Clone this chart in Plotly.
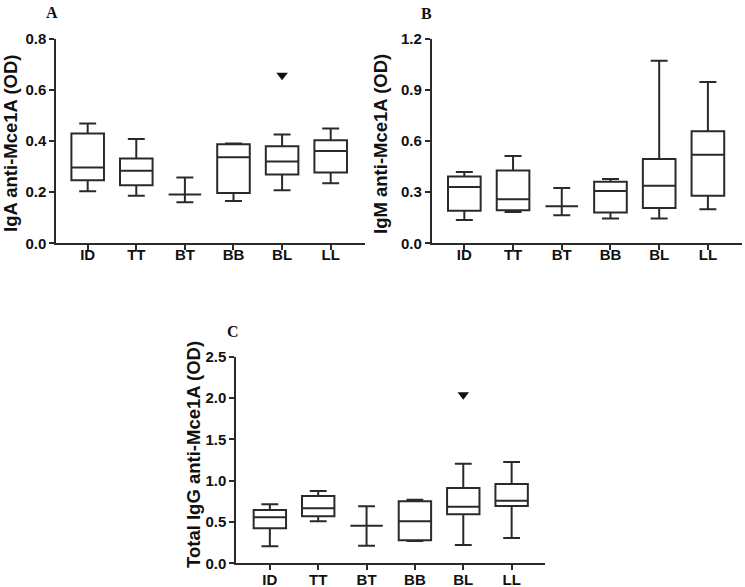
import plotly.graph_objects as go

W, H = 745, 587

categories = ["ID", "TT", "BT", "BB", "BL", "LL"]

# Panel A: IgA anti-Mce1A (OD)
iga_upper = [0.468, 0.407, 0.257, 0.390, 0.425, 0.448]
iga_q3 = [0.429, 0.331, 0.191, 0.387, 0.379, 0.403]
iga_median = [0.296, 0.283, 0.191, 0.336, 0.320, 0.361]
iga_q1 = [0.246, 0.227, 0.191, 0.196, 0.269, 0.277]
iga_lower = [0.203, 0.186, 0.160, 0.165, 0.207, 0.235]
iga_outlier_cat = ["BL"]
iga_outlier_val = [0.656]

# Panel B: IgM anti-Mce1A (OD)
igm_upper = [0.418, 0.511, 0.324, 0.377, 1.070, 0.945]
igm_q3 = [0.392, 0.427, 0.217, 0.361, 0.494, 0.656]
igm_median = [0.330, 0.258, 0.217, 0.306, 0.337, 0.519]
igm_q1 = [0.191, 0.193, 0.217, 0.181, 0.207, 0.279]
igm_lower = [0.137, 0.183, 0.164, 0.146, 0.146, 0.199]

# Panel C: Total IgG anti-Mce1A (OD)
igg_upper = [0.714, 0.875, 0.689, 0.770, 1.205, 1.225]
igg_q3 = [0.645, 0.814, 0.455, 0.750, 0.911, 0.959]
igg_median = [0.556, 0.665, 0.455, 0.508, 0.685, 0.757]
igg_q1 = [0.423, 0.568, 0.455, 0.278, 0.593, 0.693]
igg_lower = [0.206, 0.508, 0.213, 0.270, 0.221, 0.306]
igg_outlier_cat = ["BL"]
igg_outlier_val = [2.04]

iga_ticks = [0.0, 0.2, 0.4, 0.6, 0.8]
igm_ticks = [0.0, 0.3, 0.6, 0.9, 1.2]
igg_ticks = [0.0, 0.5, 1.0, 1.5, 2.0, 2.5]

LINE = "#2a2a2a"
FONT = "Arial, Liberation Sans, sans-serif"


def px_x(p):
    return p / W


def px_y(p):
    return 1 - p / H


fig = go.Figure()

panels = [
    dict(ax="", q1=iga_q1, med=iga_median, q3=iga_q3, lo=iga_lower, up=iga_upper,
         oc=iga_outlier_cat, ov=iga_outlier_val),
    dict(ax="2", q1=igm_q1, med=igm_median, q3=igm_q3, lo=igm_lower, up=igm_upper,
         oc=[], ov=[]),
    dict(ax="3", q1=igg_q1, med=igg_median, q3=igg_q3, lo=igg_lower, up=igg_upper,
         oc=igg_outlier_cat, ov=igg_outlier_val),
]

for p in panels:
    fig.add_trace(go.Box(
        x=categories, q1=p["q1"], median=p["med"], q3=p["q3"],
        lowerfence=p["lo"], upperfence=p["up"],
        xaxis="x" + p["ax"], yaxis="y" + p["ax"],
        width=0.67, whiskerwidth=0.52,
        line=dict(color=LINE, width=2), fillcolor="rgba(255,255,255,0)",
        boxpoints=False, showlegend=False, hoverinfo="skip",
    ))
    if p["oc"]:
        fig.add_trace(go.Scatter(
            x=p["oc"], y=p["ov"], mode="markers",
            xaxis="x" + p["ax"], yaxis="y" + p["ax"],
            marker=dict(symbol="triangle-down", size=10, color="#111111"),
            showlegend=False, hoverinfo="skip",
        ))

tickfont = dict(family=FONT, size=15, color="#111111", weight="bold")

def xaxis(dom, rng, anchor, standoff):
    return dict(domain=[px_x(dom[0]), px_x(dom[1])], range=rng, anchor=anchor,
                type="category", categoryorder="array", categoryarray=categories,
                showline=True, linecolor=LINE, linewidth=1.5,
                ticks="outside", ticklen=5, tickwidth=1.5, tickcolor=LINE,
                tickfont=tickfont, showgrid=False, zeroline=False,
                ticklabelstandoff=standoff, automargin=False)

def yaxis(dom, rng, anchor, tickvals):
    return dict(domain=[px_y(dom[1]), px_y(dom[0])], range=rng, anchor=anchor,
                showline=True, linecolor=LINE, linewidth=1.5,
                ticks="outside", ticklen=5, tickwidth=1.5, tickcolor=LINE,
                tickvals=tickvals, ticktext=[f"{v:.1f}" for v in tickvals],
                tickfont=tickfont, showgrid=False, zeroline=False,
                automargin=False)

fig.update_layout(
    width=W, height=H,
    margin=dict(l=0, r=0, t=0, b=0, pad=0, autoexpand=False),
    paper_bgcolor="white", plot_bgcolor="white",
    xaxis=xaxis([56, 365], [-0.652, 5.706], "y", -8),
    yaxis=yaxis([38.5, 243.3], [0, 0.8], "x", iga_ticks),
    xaxis2=xaxis([431.5, 742], [-0.674, 5.70], "y2", -8),
    yaxis2=yaxis([38.5, 243.3], [0, 1.2], "x2", igm_ticks),
    xaxis3=xaxis([236, 545], [-0.70, 5.69], "y3", -3),
    yaxis3=yaxis([356.7, 563.3], [0, 2.5], "x3", igg_ticks),
)

titles = [
    ("IgA anti-Mce1A (OD)", 11, 144),
    ("IgM anti-Mce1A (OD)", 381, 144),
    ("Total IgG anti-Mce1A (OD)", 193, 455),
]
for text, x, y in titles:
    fig.add_annotation(text=text, x=px_x(x), y=px_y(y), xref="paper", yref="paper",
                       textangle=-90, showarrow=False, xanchor="center", yanchor="middle",
                       font=dict(family=FONT, size=18.5, color="#111111", weight="bold"))

letters = [("A", 52, 12), ("B", 426, 13.5), ("C", 233, 331)]
for text, x, y in letters:
    fig.add_annotation(text=text, x=px_x(x), y=px_y(y), xref="paper", yref="paper",
                       showarrow=False, xanchor="center", yanchor="middle",
                       font=dict(family="Times New Roman, Liberation Serif, serif",
                                 size=16, color="#111111", weight="bold"))

fig.write_html("out.html", post_script="document.body.style.margin='0';",
               config={"displayModeBar": False})
